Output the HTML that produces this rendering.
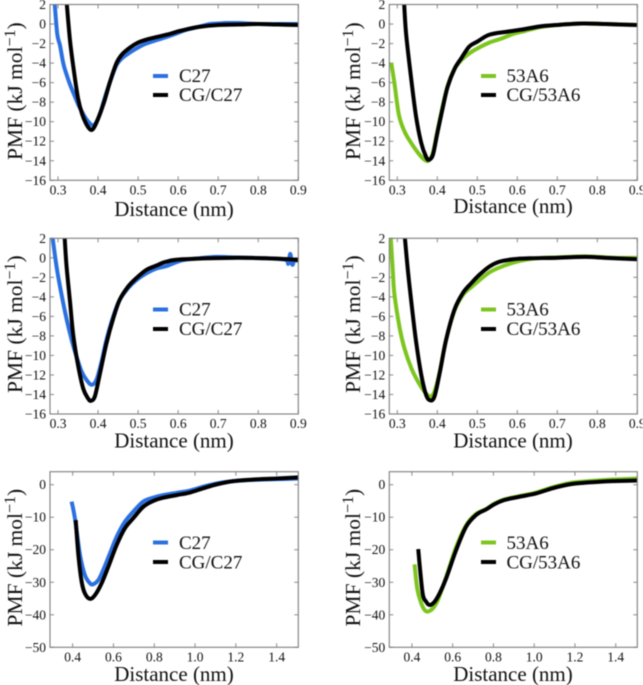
<!DOCTYPE html>
<html>
<head>
<meta charset="utf-8">
<title>PMF panels</title>
<style>
html,body{margin:0;padding:0;background:#fff;width:643px;height:685px;overflow:hidden}
svg{display:block;filter:blur(0.5px)}
text{font-family:"Liberation Serif",serif;fill:#111}
.tick{font-size:13.5px}
.title{font-size:21px}
.ytitle{font-size:21.5px}
.legend{font-size:19px}
.frame{fill:none;stroke:#7d7d7d;stroke-width:1.1}
.sw{stroke-width:4;fill:none}
</style>
</head>
<body>
<svg id="fig" width="643" height="685" viewBox="0 0 643 685" xmlns="http://www.w3.org/2000/svg">
  <rect width="643" height="685" fill="#fff"/>

  <g id="p1">
    <text class="ytitle" transform="rotate(-90 22 160)" x="22" y="160">PMF (kJ mol<tspan dy="-7" font-size="16">−1</tspan><tspan dy="7">)</tspan></text>
    <text class="title" x="174" y="216" text-anchor="middle">Distance (nm)</text>
    <line class="sw" x1="153" x2="168" y1="76" y2="76" stroke="#2b70e0"/>
    <text class="legend" x="179" y="82">C27</text>
    <line class="sw" x1="153" x2="168" y1="95" y2="95" stroke="#000"/>
    <text class="legend" x="179" y="101">CG/C27</text>
  </g>

  <g id="p2">
    <text class="ytitle" transform="rotate(-90 360 160)" x="360" y="160">PMF (kJ mol<tspan dy="-7" font-size="16">−1</tspan><tspan dy="7">)</tspan></text>
    <text class="title" x="513" y="213" text-anchor="middle">Distance (nm)</text>
    <line class="sw" x1="481" x2="496" y1="76" y2="76" stroke="#7cc51f"/>
    <text class="legend" x="506.5" y="82">53A6</text>
    <line class="sw" x1="481" x2="496" y1="95" y2="95" stroke="#000"/>
    <text class="legend" x="506.5" y="101">CG/53A6</text>
  </g>

  <g id="p3">
    <text class="ytitle" transform="rotate(-90 22 393)" x="22" y="393">PMF (kJ mol<tspan dy="-7" font-size="16">−1</tspan><tspan dy="7">)</tspan></text>
    <text class="title" x="174" y="447.5" text-anchor="middle">Distance (nm)</text>
    <line class="sw" x1="153" x2="168" y1="309.5" y2="309.5" stroke="#2b70e0"/>
    <text class="legend" x="179" y="315.5">C27</text>
    <line class="sw" x1="153" x2="168" y1="329" y2="329" stroke="#000"/>
    <text class="legend" x="179" y="335">CG/C27</text>
  </g>

  <g id="p4">
    <text class="ytitle" transform="rotate(-90 360 393)" x="360" y="393">PMF (kJ mol<tspan dy="-7" font-size="16">−1</tspan><tspan dy="7">)</tspan></text>
    <text class="title" x="513" y="447.5" text-anchor="middle">Distance (nm)</text>
    <line class="sw" x1="481" x2="496" y1="309.5" y2="309.5" stroke="#7cc51f"/>
    <text class="legend" x="506.5" y="315.5">53A6</text>
    <line class="sw" x1="481" x2="496" y1="329" y2="329" stroke="#000"/>
    <text class="legend" x="506.5" y="335">CG/53A6</text>
  </g>

  <g id="p5">
    <text class="ytitle" transform="rotate(-90 22 626.5)" x="22" y="626.5">PMF (kJ mol<tspan dy="-7" font-size="16">−1</tspan><tspan dy="7">)</tspan></text>
    <text class="title" x="174" y="681" text-anchor="middle">Distance (nm)</text>
    <line class="sw" x1="153" x2="168" y1="542.5" y2="542.5" stroke="#2b70e0"/>
    <text class="legend" x="179" y="549">C27</text>
    <line class="sw" x1="153" x2="168" y1="562" y2="562" stroke="#000"/>
    <text class="legend" x="179" y="568.5">CG/C27</text>
  </g>

  <g id="p6">
    <text class="ytitle" transform="rotate(-90 360 626.5)" x="360" y="626.5">PMF (kJ mol<tspan dy="-7" font-size="16">−1</tspan><tspan dy="7">)</tspan></text>
    <text class="title" x="513" y="681" text-anchor="middle">Distance (nm)</text>
    <line class="sw" x1="481" x2="496" y1="542.5" y2="542.5" stroke="#7cc51f"/>
    <text class="legend" x="506.5" y="549">53A6</text>
    <line class="sw" x1="481" x2="496" y1="562" y2="562" stroke="#000"/>
    <text class="legend" x="506.5" y="568.5">CG/53A6</text>
  </g>
</svg>

<script>
// Tick labels
const shortXTicks = ["0.3","0.4","0.5","0.6","0.7","0.8","0.9"];
const longXTicks = ["0.4","0.6","0.8","1.0","1.2","1.4"];
const narrowYTicks = [2,0,-2,-4,-6,-8,-10,-12,-14,-16];
const wideYTicks = [0,-10,-20,-30,-40,-50];

// Panel 1 series
const p1RefX = [0.291,0.298,0.305,0.313,0.32,0.33,0.34,0.35,0.36,0.37,0.38,0.388,0.395,0.405,0.415,0.43,0.446,0.46,0.48,0.5,0.52,0.55,0.58,0.6,0.62,0.65,0.68,0.7,0.72,0.75,0.8,0.85,0.9];
const p1RefY = [2.5,-1,-2.2,-4,-5,-6.2,-7.2,-8.2,-9,-9.7,-10.2,-10.4,-10.1,-9.2,-7.8,-5.9,-4.2,-3.5,-2.9,-2.4,-2,-1.6,-1.2,-0.9,-0.6,-0.3,0,0.05,0.1,0.1,0,0,0];
const p1CgX = [0.321,0.33,0.34,0.35,0.36,0.37,0.378,0.384,0.39,0.4,0.415,0.43,0.446,0.46,0.48,0.5,0.52,0.55,0.58,0.6,0.62,0.65,0.7,0.75,0.8,0.85,0.9];
const p1CgY = [2.5,-1.7,-4.9,-7.6,-9.2,-10.2,-10.7,-10.85,-10.6,-9.7,-8,-5.9,-4,-3.1,-2.4,-1.9,-1.6,-1.3,-1,-0.75,-0.55,-0.3,-0.1,-0.05,0,-0.05,-0.1];

// Panel 2 series
const p2RefX = [0.285,0.293,0.304,0.318,0.335,0.356,0.372,0.38,0.389,0.4,0.414,0.426,0.443,0.46,0.48,0.5,0.53,0.56,0.59,0.62,0.66,0.7,0.76,0.82,0.9];
const p2RefY = [-4,-6.1,-9.3,-11,-12.2,-13.4,-14,-13.9,-13.2,-11,-8.3,-6.3,-4.6,-3.7,-3,-2.5,-1.9,-1.5,-1,-0.7,-0.3,-0.1,0.05,0,-0.1];
const p2CgX = [0.3166,0.322,0.335,0.347,0.36,0.372,0.379,0.389,0.4,0.414,0.426,0.443,0.46,0.48,0.5,0.53,0.572,0.614,0.655,0.697,0.763,0.82,0.9];
const p2CgY = [2.5,-1,-5.7,-9.5,-12.2,-13.6,-13.9,-13.4,-11.2,-8.5,-6.4,-4.6,-3.5,-2.3,-1.8,-1.1,-0.8,-0.55,-0.25,-0.1,0.05,0,-0.1];

// Panel 3 series
const p3RefX = [0.285,0.297,0.309,0.321,0.334,0.346,0.359,0.371,0.384,0.396,0.409,0.421,0.438,0.454,0.475,0.495,0.52,0.545,0.57,0.61,0.652,0.694,0.735,0.82,0.868,0.875,0.88,0.885,0.89,0.9];
const p3RefY = [2.5,-1.07,-3.8,-6.2,-8.4,-10.1,-11.65,-12.5,-13,-12.5,-10.6,-8.4,-6,-4.3,-3.1,-2.3,-1.6,-1.1,-0.85,-0.25,-0.05,0.1,0.05,-0.05,-0.2,-0.6,0.4,-0.7,-0.3,-0.3];
const p3CgX = [0.316,0.321,0.33,0.338,0.35,0.363,0.375,0.382,0.392,0.404,0.421,0.438,0.454,0.475,0.495,0.52,0.545,0.57,0.61,0.735,0.82,0.9];
const p3CgY = [2.5,-0.7,-4.5,-7.9,-11,-13.4,-14.4,-14.65,-14.2,-12,-8.75,-6.2,-4.3,-2.95,-2.1,-1.25,-0.8,-0.4,-0.15,0,-0.05,-0.2];

// Panel 4 series
const p4RefX = [0.283,0.289,0.293,0.306,0.318,0.335,0.352,0.368,0.382,0.393,0.406,0.422,0.443,0.464,0.485,0.505,0.53,0.555,0.589,0.62,0.66,0.7,0.77,0.85,0.9];
const p4RefY = [2.5,-1.5,-3.8,-7.2,-9.3,-11.3,-12.7,-13.7,-14.2,-13.7,-11.7,-8.4,-5.4,-3.8,-3,-2.3,-1.5,-1,-0.5,-0.2,0,0.05,0.15,0,0];
const p4CgX = [0.318,0.326,0.335,0.347,0.36,0.372,0.382,0.393,0.406,0.422,0.443,0.464,0.485,0.505,0.53,0.555,0.589,0.63,0.697,0.77,0.82,0.9];
const p4CgY = [2.5,-1.1,-4.5,-8.6,-12,-14.05,-14.6,-14.2,-11.8,-8.4,-5.3,-3.6,-2.6,-1.75,-0.9,-0.4,-0.15,-0.05,0,0.1,0,-0.15];

// Panel 5 series
const p5RefX = [0.395,0.411,0.436,0.46,0.485,0.501,0.526,0.55,0.583,0.616,0.656,0.697,0.746,0.795,0.844,0.91,0.975,1.04,1.106,1.188,1.286,1.4,1.506];
const p5RefY = [-5.2,-10.3,-21.6,-27.8,-30.3,-30.6,-29.3,-26.2,-21.1,-16,-11.4,-8.3,-5.2,-4,-3.2,-2.5,-1.8,-0.6,0.4,1.1,1.5,1.7,1.9];
const p5CgX = [0.415,0.428,0.444,0.46,0.485,0.51,0.542,0.575,0.616,0.656,0.697,0.746,0.795,0.844,0.91,0.975,1.04,1.106,1.188,1.286,1.4,1.506];
const p5CgY = [-10.9,-21.6,-29.8,-33.4,-35.1,-33.9,-30.3,-25.2,-18.5,-13.4,-10.3,-6.8,-5,-4,-3.2,-2.4,-1.1,0.1,1.1,1.6,1.9,2.25];

// Panel 6 series
const p6RefX = [0.413,0.426,0.446,0.462,0.478,0.503,0.527,0.568,0.617,0.666,0.715,0.764,0.805,0.854,0.928,1.009,1.09,1.173,1.27,1.385,1.505];
const p6RefY = [-24.5,-31.9,-36.5,-38.5,-39,-38,-35.5,-28.4,-19.2,-12.5,-9,-7.5,-5.8,-4.5,-3.5,-2.4,-0.8,0.5,1.1,1.6,1.9];
const p6CgX = [0.431,0.441,0.454,0.47,0.487,0.511,0.536,0.568,0.617,0.666,0.715,0.764,0.805,0.854,0.928,1.009,1.09,1.173,1.27,1.385,1.505];
const p6CgY = [-19.8,-26.7,-33.9,-36,-37,-36,-33.4,-28.8,-20.1,-12.9,-9.3,-7.6,-6,-4.7,-3.7,-2.7,-1.1,0.1,0.7,1.1,1.3];

const NS = "http://www.w3.org/2000/svg";
const BLUE = "#2b70e0", GREEN = "#7cc51f";

function makeLinear(d0, d1, r0, r1) {
  return function (v) { return r0 + (v - d0) * (r1 - r0) / (d1 - d0); };
}

function drawTicks(g, cfg, sx, sy) {
  const xLabelY = cfg.bottom + 14;
  cfg.xTicks.forEach(function (label) {
    const px = sx(parseFloat(label));
    [[cfg.bottom, cfg.bottom - 4], [cfg.top, cfg.top + 4]].forEach(function (pair) {
      const t = document.createElementNS(NS, "line");
      
      
      t.setAttribute("x1", px); t.setAttribute("x2", px);
      t.setAttribute("y1", pair[0]); t.setAttribute("y2", pair[1]);
      t.setAttribute("stroke", "#8a8a8a");
      g.appendChild(t);
    });
    const txt = document.createElementNS(NS, "text");
    
    
    txt.setAttribute("class", "tick");
    txt.setAttribute("x", px);
    txt.setAttribute("y", xLabelY);
    txt.setAttribute("text-anchor", "middle");
    txt.textContent = label;
    g.appendChild(txt);
  });
  cfg.yTicks.forEach(function (value) {
    const py = sy(value);
    [[cfg.left, cfg.left + 4], [cfg.right, cfg.right - 4]].forEach(function (pair) {
      const t = document.createElementNS(NS, "line");
      
      
      t.setAttribute("y1", py); t.setAttribute("y2", py);
      t.setAttribute("x1", pair[0]); t.setAttribute("x2", pair[1]);
      t.setAttribute("stroke", "#8a8a8a");
      g.appendChild(t);
    });
    const txt = document.createElementNS(NS, "text");
    
    
    txt.setAttribute("class", "tick");
    txt.setAttribute("x", cfg.left - 4);
    txt.setAttribute("y", py + 4.5);
    txt.setAttribute("text-anchor", "end");
    txt.textContent = String(value).replace("-", "\u2212");
    g.appendChild(txt);
  });
}

// Smooth curve through the projected data points (Catmull-Rom to cubic Bezier)
function smoothPath(pts) {
  let d = "M" + pts[0][0].toFixed(2) + " " + pts[0][1].toFixed(2);
  for (let i = 0; i < pts.length - 1; i++) {
    const p0 = pts[Math.max(i - 1, 0)];
    const p1 = pts[i];
    const p2 = pts[i + 1];
    const p3 = pts[Math.min(i + 2, pts.length - 1)];
    const c1x = p1[0] + (p2[0] - p0[0]) / 6;
    const c1y = p1[1] + (p2[1] - p0[1]) / 6;
    const c2x = p2[0] - (p3[0] - p1[0]) / 6;
    const c2y = p2[1] - (p3[1] - p1[1]) / 6;
    d += "C" + c1x.toFixed(2) + " " + c1y.toFixed(2) + " " + c2x.toFixed(2) + " " + c2y.toFixed(2) + " " + p2[0].toFixed(2) + " " + p2[1].toFixed(2);
  }
  return d;
}

function drawSeries(g, xs, ys, sx, sy, color, clipId, name) {
  const pts = xs.map(function (x, i) { return [sx(x), sy(ys[i])]; });
  const wrap = document.createElementNS(NS, "g");
  wrap.setAttribute("clip-path", "url(#" + clipId + ")");
  const line = document.createElementNS(NS, "path");
  
  
  line.setAttribute("d", smoothPath(pts));
  line.setAttribute("fill", "none");
  line.setAttribute("stroke", color);
  line.setAttribute("stroke-width", "4");
  line.setAttribute("stroke-linejoin", "round");
  wrap.appendChild(line);
  g.appendChild(wrap);
}

function drawPanel(cfg) {
  const g = document.getElementById(cfg.id);
  const sx = makeLinear(cfg.xMin, cfg.xMax, cfg.left, cfg.right);
  const sy = makeLinear(cfg.yMin, cfg.yMax, cfg.bottom, cfg.top);

  const clip = document.createElementNS(NS, "clipPath");
  clip.setAttribute("id", "clip-" + cfg.id);
  const cr = document.createElementNS(NS, "rect");
  cr.setAttribute("x", cfg.left);
  cr.setAttribute("y", cfg.top);
  cr.setAttribute("width", cfg.right - cfg.left);
  cr.setAttribute("height", cfg.bottom - cfg.top);
  clip.appendChild(cr);
  g.appendChild(clip);

  drawTicks(g, cfg, sx, sy);
  drawSeries(g, cfg.refX, cfg.refY, sx, sy, cfg.color, "clip-" + cfg.id, cfg.refName);
  drawSeries(g, cfg.cgX, cfg.cgY, sx, sy, "#000", "clip-" + cfg.id, cfg.cgName);

  const frame = document.createElementNS(NS, "rect");
  
  
  frame.setAttribute("class", "frame");
  frame.setAttribute("x", cfg.left);
  frame.setAttribute("y", cfg.top);
  frame.setAttribute("width", cfg.right - cfg.left);
  frame.setAttribute("height", cfg.bottom - cfg.top);
  g.appendChild(frame);
}

const LX = 50, RX = 298.3, LX2 = 389.3, RX2 = 637.3;

drawPanel({id:"p1",left:LX,right:RX,top:4.5,bottom:180.3,xMin:0.28,xMax:0.9,yMin:-16,yMax:2,xTicks:shortXTicks,yTicks:narrowYTicks,refX:p1RefX,refY:p1RefY,cgX:p1CgX,cgY:p1CgY,color:BLUE,refName:"c27-line",cgName:"cg-c27-line"});
drawPanel({id:"p2",left:LX2,right:RX2,top:4.5,bottom:180.3,xMin:0.28,xMax:0.9,yMin:-16,yMax:2,xTicks:shortXTicks,yTicks:narrowYTicks,refX:p2RefX,refY:p2RefY,cgX:p2CgX,cgY:p2CgY,color:GREEN,refName:"53a6-line",cgName:"cg-53a6-line"});
drawPanel({id:"p3",left:LX,right:RX,top:238.3,bottom:414,xMin:0.28,xMax:0.9,yMin:-16,yMax:2,xTicks:shortXTicks,yTicks:narrowYTicks,refX:p3RefX,refY:p3RefY,cgX:p3CgX,cgY:p3CgY,color:BLUE,refName:"c27-line",cgName:"cg-c27-line"});
drawPanel({id:"p4",left:LX2,right:RX2,top:238.3,bottom:414,xMin:0.28,xMax:0.9,yMin:-16,yMax:2,xTicks:shortXTicks,yTicks:narrowYTicks,refX:p4RefX,refY:p4RefY,cgX:p4CgX,cgY:p4CgY,color:GREEN,refName:"53a6-line",cgName:"cg-53a6-line"});
drawPanel({id:"p5",left:LX,right:RX,top:471.7,bottom:647.3,xMin:0.289,xMax:1.506,yMin:-50,yMax:4,xTicks:longXTicks,yTicks:wideYTicks,refX:p5RefX,refY:p5RefY,cgX:p5CgX,cgY:p5CgY,color:BLUE,refName:"c27-line",cgName:"cg-c27-line"});
drawPanel({id:"p6",left:LX2,right:RX2,top:471.7,bottom:647.3,xMin:0.289,xMax:1.506,yMin:-50,yMax:4,xTicks:longXTicks,yTicks:wideYTicks,refX:p6RefX,refY:p6RefY,cgX:p6CgX,cgY:p6CgY,color:GREEN,refName:"53a6-line",cgName:"cg-53a6-line"});
</script>
</body>
</html>
